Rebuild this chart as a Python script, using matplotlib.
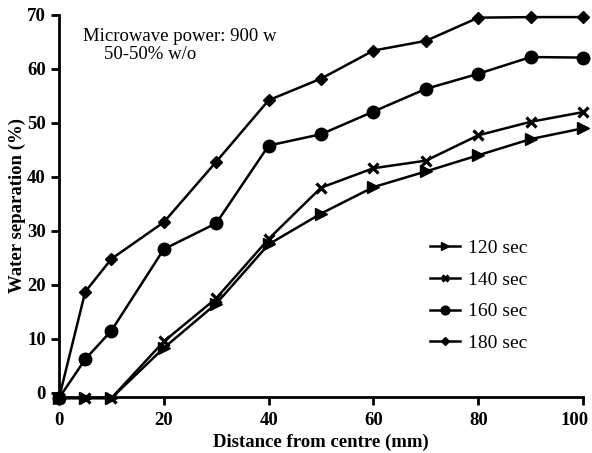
import numpy as np
import matplotlib.pyplot as plt
from matplotlib.transforms import ScaledTranslation

plt.rcParams['font.family'] = ['Liberation Serif', 'DejaVu Serif']

distance_mm = [0, 5, 10, 20, 30, 40, 50, 60, 70, 80, 90, 100]
sep_120 = [-1, -1, -1, 8.3, 16.5, 27.5, 33.2, 38.1, 41.0, 44.0, 47.0, 49.0]
sep_140 = [-1, -1, -1, 9.5, 17.5, 28.5, 38.0, 41.6, 43.0, 47.7, 50.2, 52.0]
sep_160 = [-1, 6.2, 11.5, 26.6, 31.4, 45.8, 47.9, 52.1, 56.3, 59.1, 62.2, 62.1]
sep_180 = [-1, 18.7, 24.8, 31.6, 42.8, 54.2, 58.2, 63.4, 65.2, 69.5, 69.6, 69.6]
labels = ["120 sec", "140 sec", "160 sec", "180 sec"]

fig = plt.figure(figsize=(5.92, 4.53), dpi=100)
ax = fig.add_axes([0.0997, 0.1236, 0.8853, 0.8434])

ax.plot(distance_mm, sep_120, "k-", marker=">", ms=9, lw=1.8, label=labels[0], clip_on=False)
ax.plot(distance_mm, sep_140, "k-", marker="x", ms=7, mew=2.3, lw=1.8, label=labels[1], clip_on=False)
ax.plot(distance_mm, sep_160, "k-", marker="o", ms=9, lw=1.8, label=labels[2], clip_on=False)
ax.plot(distance_mm, sep_180, "k-", marker="D", ms=6, lw=1.8, label=labels[3], clip_on=False)

ax.set_xlim(0, 100)
ax.set_ylim(-0.8, 70)
ax.set_xticks(np.arange(0, 101, 20))
ax.set_yticks(np.arange(0, 71, 10))
for s in ("top", "right"):
	ax.spines[s].set_visible(False)
for s in ("left", "bottom"):
	ax.spines[s].set_linewidth(2)
ax.tick_params(direction="out", length=6, width=2, labelsize=13.5)
ax.tick_params(axis="x", pad=5)
for t in ax.get_xticklabels() + ax.get_yticklabels():
	t.set_fontweight("bold")
# last x label sits at the edge, nudge it in like the original
last = ax.get_xticklabels()[-1]
last.set_transform(last.get_transform() + ScaledTranslation(-6 / 72, 0, fig.dpi_scale_trans))

ax.set_xlabel("Distance from centre (mm)", fontsize=13.5, fontweight="bold", labelpad=3)
ax.set_ylabel("Water separation (%)", fontsize=13.5, fontweight="bold", labelpad=1)

ax.text(0.046, 0.933, "Microwave power: 900 w", transform=ax.transAxes, fontsize=13.5)
ax.text(0.086, 0.885, "50-50% w/o", transform=ax.transAxes, fontsize=13.5)

leg = ax.legend(loc="upper left", bbox_to_anchor=(0.675, 0.458), frameon=False,
	fontsize=14, handlelength=1.55, handletextpad=0.4, labelspacing=0.72, markerscale=0.7)

plt.savefig("out.png")
